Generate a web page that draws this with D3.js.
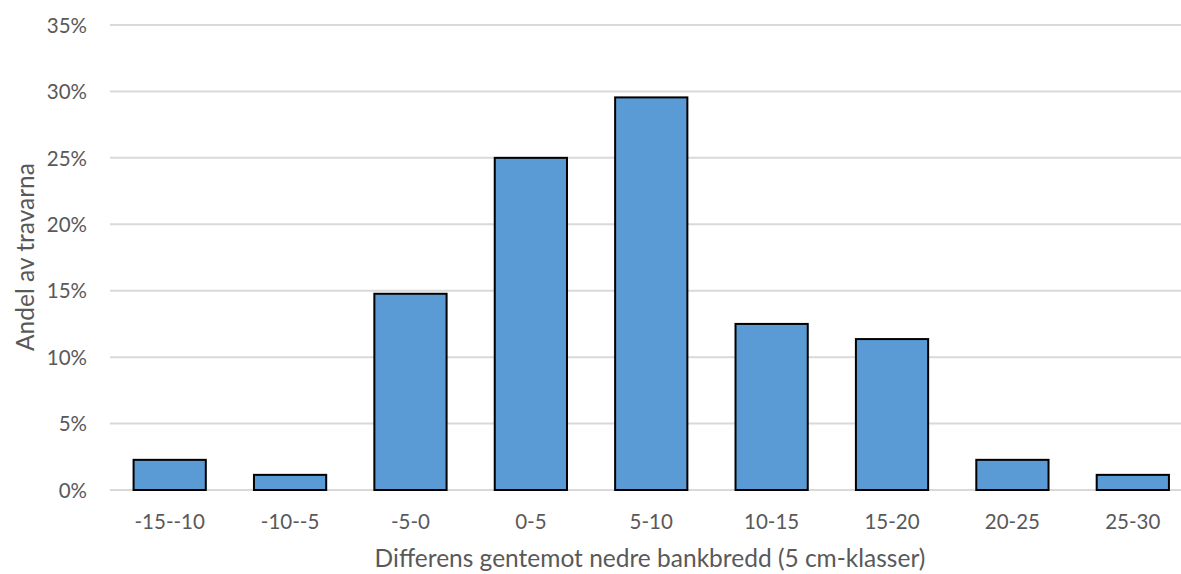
<!DOCTYPE html>
<html><head><meta charset="utf-8">
<script src="https://cdn.jsdelivr.net/npm/d3@7"></script>
<style>body{margin:0;background:#fff;} svg{display:block;} text{font-family:Lato,"Open Sans",sans-serif;fill:#595959;}</style>
</head><body>
<svg id="c" width="1181" height="574"></svg>
<script>
const categories = ["-15--10","-10--5","-5-0","0-5","5-10","10-15","15-20","20-25","25-30"];
const values = [2.27, 1.14, 14.77, 25.0, 29.55, 12.5, 11.36, 2.27, 1.14];
const yTicks = [0,5,10,15,20,25,30,35];
const xTitle = "Differens gentemot nedre bankbredd (5 cm-klasser)";
const yTitle = "Andel av travarna";

const svg = d3.select("#c");
const x = d3.scaleBand().domain(categories).range([109.5, 1193]).paddingInner(0.4).paddingOuter(0.2);
const y = d3.scaleLinear().domain([0,35]).range([490, 25]);

const grid = svg.append("g");
grid.selectAll("line").data(yTicks).join("line")
  .attr("x1",110).attr("x2",1181)
  .attr("y1",d=>y(d)).attr("y2",d=>y(d))
  .attr("stroke","#d9d9d9").attr("stroke-width",2);

const yAxis = d3.axisLeft(y).tickValues(yTicks).tickFormat(d=>d+"%").tickSize(0).tickPadding(0);
const ya = svg.append("g").attr("transform","translate(87,0)").call(yAxis);
ya.select(".domain").remove();
ya.selectAll("text").style("font-size","20.5px").attr("fill","#595959").attr("dy","0.35em");

svg.append("g").selectAll("rect").data(values).join("rect")
  .attr("x",(d,i)=>x(categories[i]))
  .attr("width",x.bandwidth())
  .attr("y",d=>y(d))
  .attr("height",d=>y(0)-y(d))
  .attr("fill","#5b9bd5").attr("stroke","#000").attr("stroke-width",2);

const xAxis = d3.axisBottom(x).tickSize(0).tickPadding(0);
const xa = svg.append("g").attr("transform","translate(0,522)").call(xAxis);
xa.select(".domain").remove();
xa.selectAll("text").style("font-size","20.5px").attr("fill","#595959").attr("dy","0.35em");

svg.append("text").attr("x",650).attr("y",558).attr("dy","0.35em")
  .attr("text-anchor","middle").style("font-size","24.5px").text(xTitle);
svg.append("text").attr("transform","translate(25,257) rotate(-90)").attr("dy","0.35em")
  .attr("text-anchor","middle").style("font-size","24.5px").text(yTitle);
</script>
</body></html>
